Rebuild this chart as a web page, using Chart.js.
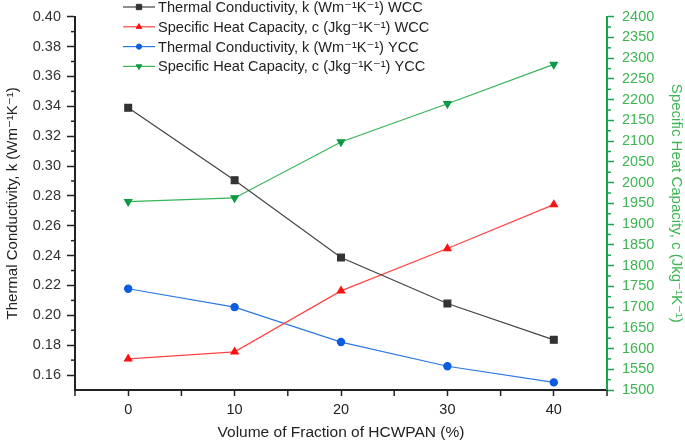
<!DOCTYPE html>
<html>
<head>
<meta charset="utf-8">
<script src="https://cdn.jsdelivr.net/npm/chart.js@4"></script>
<style>
  body { margin: 0; background: #fff; }
  #wrap { width: 685px; height: 443px; }
</style>
</head>
<body>
<div id="wrap"><canvas id="chart" width="685" height="443"></canvas></div>
<script>
// values
const fractions = [0, 10, 20, 30, 40];
const kWCC = [0.339, 0.2905, 0.2387, 0.2079, 0.1836];
const cWCC = [1575, 1592, 1739, 1841, 1947];
const kYCC = [0.2178, 0.2055, 0.1821, 0.1659, 0.1551];
const cYCC = [1954, 1963, 2098, 2190, 2285];

const xTicks = [0, 10, 20, 30, 40];
const xMinorTicks = [-5, 5, 15, 25, 35, 45];
const kTicks = [0.16, 0.18, 0.20, 0.22, 0.24, 0.26, 0.28, 0.30, 0.32, 0.34, 0.36, 0.38, 0.40];
const kMinorTicks = [0.17, 0.19, 0.21, 0.23, 0.25, 0.27, 0.29, 0.31, 0.33, 0.35, 0.37, 0.39];
const cTicks = [1500, 1550, 1600, 1650, 1700, 1750, 1800, 1850, 1900, 1950, 2000, 2050, 2100, 2150, 2200, 2250, 2300, 2350, 2400];
const cMinorTicks = [1525, 1575, 1625, 1675, 1725, 1775, 1825, 1875, 1925, 1975, 2025, 2075, 2125, 2175, 2225, 2275, 2325, 2375];

const FONT = '"Liberation Sans", Arial, "DejaVu Sans", sans-serif';
const AXIS = "#222";
const GREEN_AXIS = "#1aa050";
const GREEN_TEXT = "#3db552";

const points = (ys) => fractions.map((x, i) => ({ x: x, y: ys[i] }));

const lineLegend = {
  id: "lineLegend",
  afterDraw(chart) {
    const ctx = chart.ctx;
    chart.data.datasets.forEach((ds, i) => {
      const y = 7 + i * 19.8;
      ctx.save();
      ctx.strokeStyle = ds.borderColor;
      ctx.lineWidth = ds.borderWidth;
      ctx.beginPath();
      ctx.moveTo(123, y);
      ctx.lineTo(155, y);
      ctx.stroke();
      ctx.fillStyle = ds.pointBackgroundColor;
      ctx.strokeStyle = ds.pointBorderColor;
      ctx.lineWidth = 1;
      Chart.helpers.drawPoint(ctx, {
        pointStyle: ds.pointStyle,
        radius: ds.pointRadius - 1,
        rotation: ds.pointRotation || 0,
        borderWidth: 1
      }, 139, y);
      ctx.fillStyle = "#222";
      ctx.font = "14.6px " + FONT;
      ctx.textBaseline = "middle";
      ctx.fillText(ds.label, 158, y + 1);
      ctx.restore();
    });
  }
};

const minorTicks = {
  id: "minorTicks",
  afterDraw(chart) {
    const ctx = chart.ctx;
    const { x, y, y1 } = chart.scales;
    const seg = (x0, y0, x1, y2) => {
      ctx.beginPath();
      ctx.moveTo(x0, y0);
      ctx.lineTo(x1, y2);
      ctx.stroke();
    };
    ctx.save();
    ctx.lineWidth = 1.5;
    ctx.strokeStyle = AXIS;
    xMinorTicks.forEach(v => {
      const px = x.getPixelForValue(v);
      seg(px, x.top, px, x.top + 6);
    });
    kMinorTicks.forEach(v => {
      const py = y.getPixelForValue(v);
      seg(y.right - 4, py, y.right, py);
    });
    ctx.strokeStyle = GREEN_AXIS;
    cMinorTicks.forEach(v => {
      const py = y1.getPixelForValue(v);
      seg(y1.left, py, y1.left + 4, py);
    });
    ctx.restore();
  }
};

new Chart(document.getElementById("chart"), {
  type: "line",
  data: {
    datasets: [
      {
        label: "Thermal Conductivity, k (Wm\u207B\u00B9K\u207B\u00B9) WCC",
        data: points(kWCC),
        yAxisID: "y",
        borderColor: "#444",
        borderWidth: 1.2,
        pointStyle: "rect",
        pointRadius: 4.8,
        pointBackgroundColor: "#333",
        pointBorderColor: "#333"
      },
      {
        label: "Specific Heat Capacity, c (Jkg\u207B\u00B9K\u207B\u00B9) WCC",
        data: points(cWCC),
        yAxisID: "y1",
        borderColor: "#ff4444",
        borderWidth: 1.2,
        pointStyle: "triangle",
        pointRadius: 4.2,
        pointBackgroundColor: "#ff1010",
        pointBorderColor: "#ff1010"
      },
      {
        label: "Thermal Conductivity, k (Wm\u207B\u00B9K\u207B\u00B9) YCC",
        data: points(kYCC),
        yAxisID: "y",
        borderColor: "#2a78e4",
        borderWidth: 1.2,
        pointStyle: "circle",
        pointRadius: 3.6,
        pointBackgroundColor: "#0a5ce0",
        pointBorderColor: "#0a5ce0"
      },
      {
        label: "Specific Heat Capacity, c (Jkg\u207B\u00B9K\u207B\u00B9) YCC",
        data: points(cYCC),
        yAxisID: "y1",
        borderColor: "#35b556",
        borderWidth: 1.2,
        pointStyle: "triangle",
        pointRotation: 180,
        pointRadius: 4.2,
        pointBackgroundColor: "#0c9a45",
        pointBorderColor: "#0c9a45"
      }
    ]
  },
  options: {
    responsive: false,
    animation: false,
    layout: { padding: { top: 11, left: 0, right: 0, bottom: 0 } },
    plugins: {
      legend: { display: false },
      tooltip: { enabled: false }
    },
    scales: {
      x: {
        type: "linear",
        min: -5,
        max: 45,
        afterFit: s => { s.height = 53; },
        afterBuildTicks: s => { s.ticks = xTicks.map(v => ({ value: v })); },
        grid: { drawOnChartArea: false, tickLength: 6, tickColor: AXIS, tickWidth: 1.5 },
        border: { color: AXIS, width: 2 },
        ticks: { color: "#222", font: { family: FONT, size: 14.5 }, padding: 5, maxRotation: 0 },
        title: {
          display: true,
          text: "Volume of Fraction of HCWPAN (%)",
          color: "#222",
          font: { family: FONT, size: 15.5 },
          padding: { top: 0, bottom: 1 }
        }
      },
      y: {
        position: "left",
        min: 0.15,
        max: 0.40,
        afterFit: s => { s.width = 75; },
        afterBuildTicks: s => { s.ticks = kTicks.map(v => ({ value: v })); },
        grid: { drawOnChartArea: false, tickLength: 8, tickColor: AXIS, tickWidth: 1.5 },
        border: { color: AXIS, width: 2 },
        ticks: {
          color: "#333",
          font: { family: FONT, size: 14.5 },
          padding: 6,
          callback: v => Number(v).toFixed(2)
        },
        title: {
          display: true,
          text: "Thermal Conductivity, k (Wm\u207B\u00B9K\u207B\u00B9)",
          color: "#222",
          font: { family: FONT, size: 15 },
          padding: { top: 3.5, bottom: 0 }
        }
      },
      y1: {
        position: "right",
        min: 1500,
        max: 2400,
        afterFit: s => { s.width = 78; },
        afterBuildTicks: s => { s.ticks = cTicks.map(v => ({ value: v })); },
        grid: { drawOnChartArea: false, tickLength: 7, tickColor: GREEN_AXIS, tickWidth: 1.5 },
        border: { color: GREEN_AXIS, width: 2 },
        ticks: {
          color: GREEN_TEXT,
          font: { family: FONT, size: 14.5 },
          padding: 8,
          callback: v => String(v)
        },
        title: {
          display: true,
          text: "Specific Heat Capacity, c (Jkg\u207B\u00B9K\u207B\u00B9)",
          color: GREEN_TEXT,
          font: { family: FONT, size: 15 },
          padding: { top: 0, bottom: 0 }
        }
      }
    }
  },
  plugins: [lineLegend, minorTicks]
});
</script>
</body>
</html>
